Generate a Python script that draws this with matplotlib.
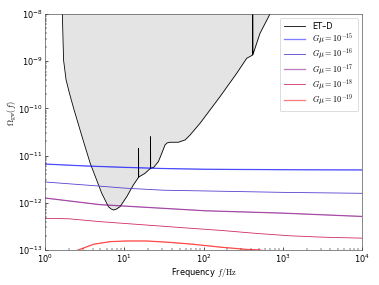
import numpy as np
import matplotlib
matplotlib.use("Agg")
import matplotlib.pyplot as plt

plt.rcParams["mathtext.fontset"] = "cm"

# ET-D sensitivity curve (log10 f [Hz], log10 Omega)
etd_logf = [0.200, 0.218, 0.233, 0.265, 0.309, 0.366, 0.479, 0.568, 0.715,
            0.799, 0.833, 0.862, 0.896, 0.946, 1.031, 1.114, 1.180, 1.180,
            1.182, 1.262, 1.331, 1.331, 1.333, 1.367, 1.430, 1.473, 1.514,
            1.539, 1.577, 1.682, 1.767, 1.830, 1.956, 2.208, 2.419, 2.545,
            2.621, 2.621, 2.623, 2.713, 2.839, 2.900]
etd_logomega = [-7.60, -8.00, -8.975, -9.398, -9.690, -10.034, -10.669,
                -11.157, -11.799, -12.083, -12.131, -12.153, -12.138, -12.083,
                -11.871, -11.623, -11.460, -10.845, -11.455, -11.375, -11.269,
                -10.600, -11.265, -11.256, -11.129, -10.951, -10.775, -10.733,
                -10.718, -10.718, -10.669, -10.564, -10.316, -9.752, -9.256,
                -8.939, -8.869, -7.50, -8.862, -8.409, -8.000, -7.800]

# cosmic string spectra (log10 f, log10 Omega)
gmu_labels = [r"$G\mu = 10^{-15}$", r"$G\mu = 10^{-16}$", r"$G\mu = 10^{-17}$",
              r"$G\mu = 10^{-18}$", r"$G\mu = 10^{-19}$"]
gmu_logf = [
    [0.0, 0.5, 1.0, 1.5, 2.0, 3.0, 4.0],
    [0.0, 0.63, 1.0, 1.5, 2.02, 3.0, 4.0],
    [0.0, 0.69, 1.0, 2.02, 3.0, 4.0],
    [0.0, 0.3, 0.69, 1.83, 2.25, 2.67, 3.09, 3.51, 4.0],
    [0.30, 0.42, 0.61, 0.82, 1.03, 1.28, 1.58, 1.87, 2.21, 2.55, 2.71, 2.85],
]
gmu_logomega = [
    [-11.18, -11.22, -11.25, -11.275, -11.29, -11.30, -11.305],
    [-11.56, -11.64, -11.69, -11.735, -11.75, -11.78, -11.80],
    [-11.90, -12.04, -12.07, -12.17, -12.22, -12.29],
    [-12.33, -12.34, -12.40, -12.54, -12.59, -12.65, -12.70, -12.73, -12.75],
    [-13.08, -13.00, -12.88, -12.824, -12.81, -12.81, -12.84, -12.88, -12.94,
     -12.99, -13.00, -13.06],
]
gmu_colors = ["blue", "#5a3ccf", "purple", "#d02a60", "red"]
gmu_alpha = [0.5, 1.0, 0.5, 1.0, 0.5]
gmu_lw = [1.6, 1.0, 1.6, 1.0, 1.6]

fig = plt.figure(figsize=(379 / 59.2, 285 / 59.2), dpi=59.2)
ax = fig.add_axes([0.119, 0.123, 0.836, 0.828])

f_etd = 10 ** np.array(etd_logf)
om_etd = 10 ** np.array(etd_logomega)
ax.fill_between(f_etd, om_etd, 1e-7, color="lightgray", alpha=0.6, lw=0)
ax.plot(f_etd, om_etd, color="black", lw=1.0, label="ET\u2013D")

for lf, lo, lab, c, a, lw in zip(gmu_logf, gmu_logomega, gmu_labels,
                                 gmu_colors, gmu_alpha, gmu_lw):
    f = 10 ** np.array(lf)
    om = 10 ** np.array(lo)
    ax.plot(f, om, color=c, alpha=a, lw=lw, label=lab)
    if a < 1:
        # second (unlabelled) trace gives the darker look inside the plot
        ax.plot(f, om, color=c, alpha=a, lw=1.0)

ax.set_xscale("log")
ax.set_yscale("log")
ax.set_xlim(1, 1e4)
ax.set_ylim(1e-13, 1e-8)
ax.tick_params(which="both", direction="in", top=False, right=False)
for s in ax.spines.values():
    s.set_color("0.3")

ax.set_xlabel(r"Frequency $f/\mathrm{Hz}$", labelpad=1)
ax.set_ylabel(r"$\Omega_{\rm gw}(f)$")
ax.yaxis.set_label_coords(-0.085, 0.58)
ax.legend(loc="upper right", labelspacing=0.05, handlelength=2.6,
          handletextpad=0.9, borderpad=0.5)

fig.savefig("out.png", dpi=59.2)
